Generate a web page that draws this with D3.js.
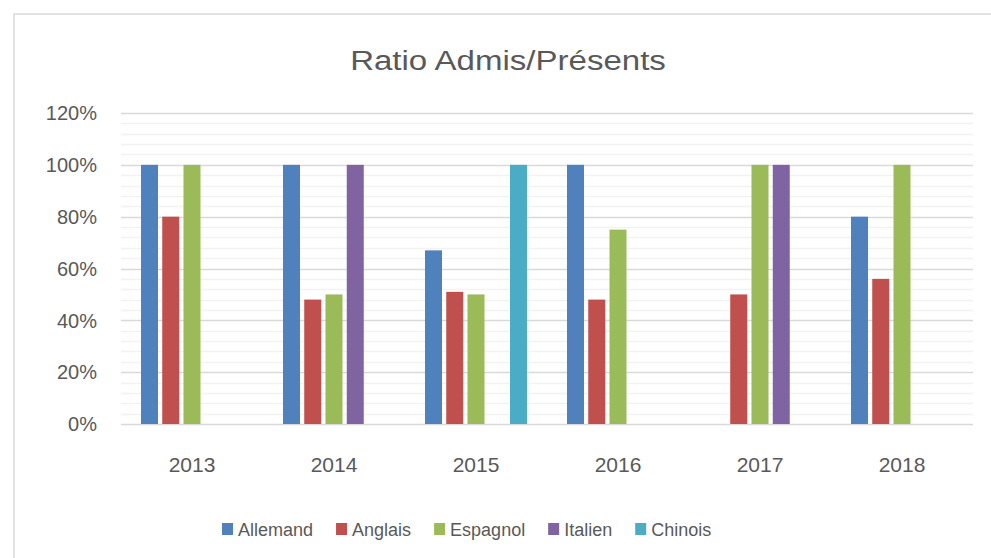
<!DOCTYPE html>
<html>
<head>
<meta charset="utf-8">
<script src="https://cdn.jsdelivr.net/npm/d3@7"></script>
<style>
  body { margin: 0; background: #fff; }
  text { font-family: "Liberation Sans", Arial, sans-serif; fill: #595959; }
</style>
</head>
<body>
<svg id="chart" width="991" height="558"></svg>
<script>
const years = ['2013', '2014', '2015', '2016', '2017', '2018'];
const series = ['Allemand', 'Anglais', 'Espagnol', 'Italien', 'Chinois'];
const colors = ['#4F81BD', '#C0504D', '#9BBB59', '#8064A2', '#4BACC6'];

// ratio in %, null = no bar
const allemand = [100, 100, 67, 100, null, 80];
const anglais = [80, 48, 51, 48, 50, 56];
const espagnol = [100, 50, 50, 75, 100, 100];
const italien = [null, 100, null, null, 100, null];
const chinois = [null, null, 100, null, null, null];

const yTicks = [0, 20, 40, 60, 80, 100, 120];

const values = [allemand, anglais, espagnol, italien, chinois];

const svg = d3.select('#chart');
const margin = { top: 113, right: 18, bottom: 134, left: 121 };
const width = 991 - margin.left - margin.right;
const height = 558 - margin.top - margin.bottom;

// chart area border
svg.append('rect')
  .attr('x', 14)
  .attr('y', 14)
  .attr('width', 1100)
  .attr('height', 700)
  .attr('fill', 'none')
  .attr('stroke', '#d9d9d9')
  .attr('stroke-width', 1.5);

const x0 = d3.scaleBand()
  .domain(years)
  .range([0, width]);

const x1 = d3.scaleBand()
  .domain(series)
  .range([0, x0.bandwidth()])
  .paddingInner(0.2)
  .paddingOuter(0.94);

const y = d3.scaleLinear()
  .domain([0, 120])
  .range([height, 0]);

const g = svg.append('g')
  .attr('transform', `translate(${margin.left},${margin.top})`);

// minor gridlines every 4%
g.append('g')
  .selectAll('line')
  .data(d3.range(0, 121, 4).filter(v => v % 20 !== 0))
  .enter().append('line')
    .attr('x1', 0)
    .attr('x2', width)
    .attr('y1', d => Math.round(y(d)) + 0.5)
    .attr('y2', d => Math.round(y(d)) + 0.5)
    .attr('stroke', '#f2f2f2')
    .attr('stroke-width', 1.5);

// major gridlines
g.append('g')
  .selectAll('line')
  .data(yTicks)
  .enter().append('line')
    .attr('x1', 0)
    .attr('x2', width)
    .attr('y1', d => Math.round(y(d)) + 0.5)
    .attr('y2', d => Math.round(y(d)) + 0.5)
    .attr('stroke', '#d9d9d9')
    .attr('stroke-width', 1.5);

// y labels
g.append('g')
  .selectAll('text')
  .data(yTicks)
  .enter().append('text')
    .attr('x', -24)
    .attr('y', d => y(d))
    .attr('dy', '0.36em')
    .attr('text-anchor', 'end')
    .style('font-size', '20px')
    .text(d => `${d}%`);

// bars
const groups = g.selectAll('.year')
  .data(years)
  .enter().append('g')
    .attr('class', 'year')
    .attr('transform', d => `translate(${x0(d)},0)`);

groups.selectAll('rect')
  .data((yr, i) => series.map((s, j) => ({ s, j, v: values[j][i] })).filter(d => d.v !== null))
  .enter().append('rect')
    .attr('x', d => x1(d.s))
    .attr('width', x1.bandwidth())
    .attr('y', d => y(d.v))
    .attr('height', d => height - y(d.v))
    .attr('fill', d => colors[d.j]);

// x labels
g.append('g')
  .selectAll('text')
  .data(years)
  .enter().append('text')
    .attr('x', d => x0(d) + x0.bandwidth() / 2)
    .attr('y', height + 48)
    .attr('text-anchor', 'middle')
    .style('font-size', '21px')
    .text(d => d);

// title
svg.append('text')
  .attr('text-anchor', 'middle')
  .attr('transform', 'translate(508,70) scale(1.18,1)')
  .style('font-size', '28px')
  .text('Ratio Admis/Présents');

// legend
const legend = svg.append('g').attr('transform', 'translate(222,0)');
let lx = 0;
series.forEach((s, i) => {
  const item = legend.append('g').attr('transform', `translate(${lx},0)`);
  item.append('rect')
    .attr('x', 0)
    .attr('y', 523)
    .attr('width', 11)
    .attr('height', 12)
    .attr('fill', colors[i]);
  const t = item.append('text')
    .attr('x', 16)
    .attr('y', 536)
    .style('font-size', '18px')
    .text(s);
  lx += 16 + t.node().getComputedTextLength() + 23;
});
</script>
</body>
</html>
